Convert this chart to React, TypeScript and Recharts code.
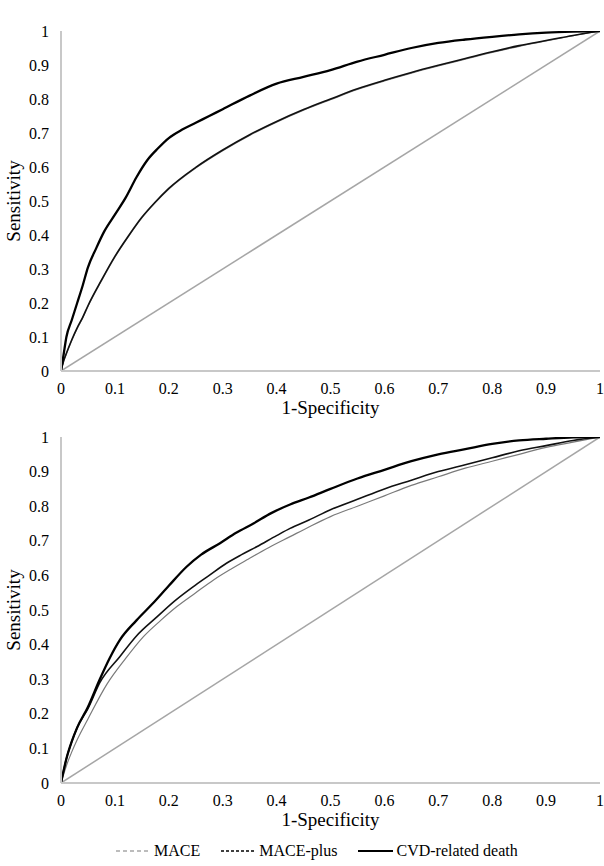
import React from "react";
import { LineChart, Line, XAxis, YAxis } from "recharts";

const FONT = '"Liberation Serif", "Times New Roman", Times, serif';

const xTicks = [0, 0.1, 0.2, 0.3, 0.4, 0.5, 0.6, 0.7, 0.8, 0.9, 1];
const yTicks = [0, 0.1, 0.2, 0.3, 0.4, 0.5, 0.6, 0.7, 0.8, 0.9, 1];

const seriesNames = ["MACE", "MACE-plus", "CVD-related death"];

const diagX = [0, 1];
const diagY = [0, 1];

// Top panel
const topMaceX = [0, 0.005, 0.01, 0.02, 0.03, 0.04, 0.05, 0.075, 0.1, 0.125, 0.15, 0.175, 0.2, 0.25, 0.3, 0.35, 0.4, 0.45, 0.5, 0.55, 0.6, 0.65, 0.7, 0.75, 0.8, 0.85, 0.9, 0.95, 1];
const topMaceY = [0, 0.03, 0.05, 0.09, 0.125, 0.155, 0.19, 0.265, 0.335, 0.395, 0.45, 0.495, 0.535, 0.597, 0.648, 0.693, 0.732, 0.767, 0.798, 0.828, 0.853, 0.876, 0.897, 0.917, 0.937, 0.955, 0.971, 0.986, 1];
const topMacePlusX = [0, 0.005, 0.01, 0.02, 0.03, 0.04, 0.05, 0.075, 0.1, 0.125, 0.15, 0.175, 0.2, 0.25, 0.3, 0.35, 0.4, 0.45, 0.5, 0.55, 0.6, 0.65, 0.7, 0.75, 0.8, 0.85, 0.9, 0.95, 1];
const topMacePlusY = [0, 0.03, 0.052, 0.092, 0.127, 0.157, 0.192, 0.267, 0.337, 0.397, 0.452, 0.497, 0.537, 0.599, 0.65, 0.695, 0.734, 0.769, 0.8, 0.83, 0.855, 0.878, 0.899, 0.919, 0.939, 0.957, 0.972, 0.987, 1];
const topCvdX = [0, 0.005, 0.01, 0.02, 0.03, 0.04, 0.05, 0.065, 0.08, 0.1, 0.12, 0.14, 0.16, 0.18, 0.2, 0.225, 0.25, 0.275, 0.3, 0.35, 0.4, 0.45, 0.5, 0.55, 0.6, 0.65, 0.7, 0.75, 0.8, 0.85, 0.9, 0.95, 1];
const topCvdY = [0, 0.05, 0.1, 0.15, 0.2, 0.25, 0.305, 0.36, 0.41, 0.46, 0.51, 0.57, 0.62, 0.655, 0.685, 0.71, 0.73, 0.75, 0.77, 0.81, 0.845, 0.865, 0.885, 0.91, 0.93, 0.95, 0.965, 0.975, 0.983, 0.99, 0.995, 0.998, 1];

// Bottom panel
const botMaceX = [0, 0.01, 0.02, 0.03, 0.05, 0.085, 0.12, 0.153, 0.185, 0.215, 0.25, 0.283, 0.315, 0.345, 0.385, 0.425, 0.46, 0.5, 0.55, 0.6, 0.65, 0.7, 0.75, 0.8, 0.85, 0.9, 0.95, 1];
const botMaceY = [0, 0.05, 0.09, 0.125, 0.185, 0.285, 0.36, 0.423, 0.47, 0.51, 0.55, 0.587, 0.618, 0.645, 0.68, 0.712, 0.74, 0.77, 0.8, 0.83, 0.86, 0.885, 0.91, 0.93, 0.95, 0.97, 0.985, 1];
const botMacePlusX = [0, 0.01, 0.02, 0.03, 0.05, 0.072, 0.109, 0.14, 0.178, 0.21, 0.245, 0.275, 0.307, 0.335, 0.363, 0.4, 0.425, 0.46, 0.5, 0.55, 0.6, 0.65, 0.7, 0.75, 0.8, 0.85, 0.9, 0.95, 1];
const botMacePlusY = [0, 0.07, 0.12, 0.16, 0.215, 0.29, 0.365, 0.425, 0.48, 0.525, 0.567, 0.6, 0.635, 0.66, 0.683, 0.715, 0.736, 0.76, 0.79, 0.82, 0.85, 0.875, 0.9, 0.92, 0.94, 0.96, 0.975, 0.99, 1];
const botCvdX = [0, 0.01, 0.02, 0.03, 0.05, 0.072, 0.09, 0.109, 0.14, 0.171, 0.2, 0.233, 0.26, 0.295, 0.325, 0.357, 0.39, 0.425, 0.46, 0.5, 0.55, 0.6, 0.65, 0.7, 0.75, 0.8, 0.85, 0.9, 0.95, 1];
const botCvdY = [0, 0.07, 0.12, 0.16, 0.22, 0.3, 0.36, 0.413, 0.47, 0.52, 0.57, 0.625, 0.66, 0.693, 0.723, 0.75, 0.78, 0.805, 0.825, 0.85, 0.88, 0.905, 0.93, 0.95, 0.965, 0.98, 0.99, 0.995, 0.999, 1];

const zip = (xs: number[], ys: number[]) => xs.map((x, i) => ({ x, y: ys[i] }));

const AXIS_COLOR = "#c8c8c8";

const XTitle = (props: any) => {
  const vb = props.viewBox || {};
  return (
    <text
      x={vb.x + vb.width / 2}
      y={vb.y + 43}
      textAnchor="middle"
      fontFamily={FONT}
      fontSize={19}
      fill="#000"
    >
      1-Specificity
    </text>
  );
};

const YTitle = (props: any) => {
  const vb = props.viewBox || {};
  const cx = 13;
  const cy = vb.y + vb.height / 2;
  return (
    <text
      x={cx}
      y={cy}
      textAnchor="middle"
      dominantBaseline="central"
      transform={`rotate(-90, ${cx}, ${cy})`}
      fontFamily={FONT}
      fontSize={19}
      fill="#000"
    >
      Sensitivity
    </text>
  );
};

type Panel = {
  mace: { x: number; y: number }[];
  macePlus: { x: number; y: number }[];
  cvd: { x: number; y: number }[];
};

const RocPanel = ({ panel, height }: { panel: Panel; height: number }) => (
  <LineChart width={604} height={height} margin={{ top: 31, right: 4, bottom: 0, left: 0 }}>
    <XAxis
      type="number"
      dataKey="x"
      domain={[0, 1]}
      ticks={xTicks}
      interval={0}
      allowDataOverflow
      tickLine={false}
      tickSize={0}
      tickMargin={12}
      height={49}
      axisLine={{ stroke: AXIS_COLOR, strokeWidth: 2 }}
      tick={{ fill: "#000", fontSize: 16, fontFamily: FONT }}
      label={<XTitle />}
    />
    <YAxis
      type="number"
      dataKey="y"
      domain={[0, 1]}
      ticks={yTicks}
      interval={0}
      allowDataOverflow
      tickLine={false}
      tickSize={0}
      tickMargin={12}
      width={61}
      axisLine={{ stroke: AXIS_COLOR, strokeWidth: 2 }}
      tick={{ fill: "#000", fontSize: 16, fontFamily: FONT }}
      label={<YTitle />}
    />
    <Line
      data={zip(diagX, diagY)}
      dataKey="y"
      type="linear"
      stroke="#a6a6a6"
      strokeWidth={1.5}
      dot={false}
      activeDot={false}
      isAnimationActive={false}
      legendType="none"
    />
    <Line
      data={panel.mace}
      dataKey="y"
      name={seriesNames[0]}
      type="monotone"
      stroke="#7a7a7a"
      strokeWidth={1.2}
      dot={false}
      activeDot={false}
      isAnimationActive={false}
    />
    <Line
      data={panel.macePlus}
      dataKey="y"
      name={seriesNames[1]}
      type="monotone"
      stroke="#111"
      strokeWidth={1.6}
      dot={false}
      activeDot={false}
      isAnimationActive={false}
    />
    <Line
      data={panel.cvd}
      dataKey="y"
      name={seriesNames[2]}
      type="monotone"
      stroke="#000"
      strokeWidth={2.3}
      dot={false}
      activeDot={false}
      isAnimationActive={false}
    />
  </LineChart>
);

const LegendItem = ({ label, dash, color, width }: { label: string; dash?: string; color: string; width: number }) => (
  <div style={{ display: "flex", alignItems: "center" }}>
    <svg width={35} height={4} style={{ marginRight: 3 }}>
      <line x1={0} y1={2} x2={35} y2={2} stroke={color} strokeWidth={width} strokeDasharray={dash} />
    </svg>
    <span>{label}</span>
  </div>
);

export default function App() {
  const top: Panel = {
    mace: zip(topMaceX, topMaceY),
    macePlus: zip(topMacePlusX, topMacePlusY),
    cvd: zip(topCvdX, topCvdY),
  };
  const bottom: Panel = {
    mace: zip(botMaceX, botMaceY),
    macePlus: zip(botMacePlusX, botMacePlusY),
    cvd: zip(botCvdX, botCvdY),
  };
  return (
    <div style={{ position: "absolute", left: 0, top: 0, width: 604, height: 866, background: "#fff" }}>
      <div style={{ position: "absolute", left: 0, top: 0 }}>
        <RocPanel panel={top} height={420} />
      </div>
      <div style={{ position: "absolute", left: 0, top: 406 }}>
        <RocPanel panel={bottom} height={426} />
      </div>
      <div
        style={{
          position: "absolute",
          left: 116,
          top: 841,
          height: 20,
          display: "flex",
          alignItems: "center",
          gap: 21,
          fontFamily: FONT,
          fontSize: 16,
          color: "#000",
          whiteSpace: "nowrap",
        }}
      >
        <LegendItem label={seriesNames[0]} dash="4 3" color="#7a7a7a" width={1.2} />
        <LegendItem label={seriesNames[1]} dash="3 2" color="#000" width={1.3} />
        <LegendItem label={seriesNames[2]} color="#000" width={2} />
      </div>
    </div>
  );
}
